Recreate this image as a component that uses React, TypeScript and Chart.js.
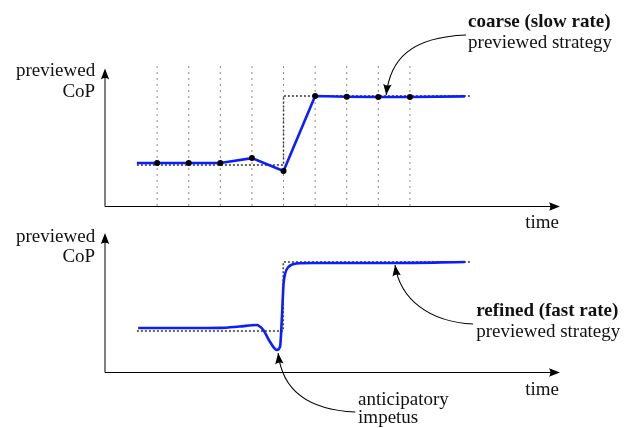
import React, { useEffect, useRef } from "react";
import { Chart, registerables } from "chart.js";

Chart.register(...registerables);

// ---- data (time units, CoP units) ----
const gridTimes = [1, 2, 3, 4, 5, 6, 7, 8, 9];

const coarseTimes = [0.36, 1, 2, 3, 4, 5, 6, 7, 8, 9, 10.74];
const coarseValues = [0.03, 0.03, 0.03, 0.03, 0.1, -0.087, 1.0, 0.99, 0.985, 0.985, 0.995];
const coarseDots = [false, true, true, true, true, true, true, true, true, true, false];

const refinedTimes = [0.4, 2.0, 3.0, 3.6, 4.15, 4.36, 4.57, 4.79, 4.89, 4.95, 5.0, 5.05, 5.16, 5.42, 5.94, 8.5, 10.74];
const refinedValues = [0.043, 0.043, 0.046, 0.065, 0.087, 0.014, -0.155, -0.275, -0.227, 0.207, 0.68, 0.83, 0.93, 0.98, 0.986, 0.986, 1.0];

const stepTimesTop = [0.36, 5, 5, 10.93];
const stepTimesBottom = [0.36, 4.99, 4.99, 10.93];
const stepValues = [0, 0, 1, 1];

const axisStart = -0.65; // time where the vertical axis stands
const axisEnd = 13.75; // tip of the time arrow
const axisFloor = -0.594; // CoP value where the time axis lies
const yArrowTop = 1.4;
const yArrowBottom = 1.42;
const gridTop = 1.493;

type Label = { text: string; t: number; v: number; axis: string; bold?: boolean; align?: CanvasTextAlign };
const labels: Label[] = [
  { text: "coarse (slow rate)", t: 10.84, v: 2.0, axis: "yTop", bold: true },
  { text: "previewed strategy", t: 10.84, v: 1.696, axis: "yTop" },
  { text: "previewed", t: -0.962, v: 1.29, axis: "yTop", align: "right" },
  { text: "CoP", t: -0.962, v: 0.986, axis: "yTop", align: "right" },
  { text: "time", t: 12.65, v: -0.913, axis: "yTop" },
  { text: "previewed", t: -0.962, v: 1.29, axis: "yBot", align: "right" },
  { text: "CoP", t: -0.962, v: 1.0, axis: "yBot", align: "right" },
  { text: "time", t: 12.65, v: -0.928, axis: "yBot" },
  { text: "refined (fast rate)", t: 11.1, v: 0.217, axis: "yBot", bold: true },
  { text: "previewed strategy", t: 11.1, v: -0.087, axis: "yBot" },
  { text: "anticipatory", t: 7.36, v: -1.072, axis: "yBot" },
  { text: "impetus", t: 7.36, v: -1.333, axis: "yBot" },
];

type Arrow = { axis: string; pts: [number, number][] };
const arrows: Arrow[] = [
  { axis: "yTop", pts: [[10.78, 1.884], [9.0, 1.855], [8.37, 1.522], [8.25, 1.014]] },
  { axis: "yBot", pts: [[11.0, 0.101], [9.64, 0.13], [8.69, 0.449], [8.53, 0.957]] },
  { axis: "yBot", pts: [[7.27, -1.174], [5.84, -1.145], [4.96, -0.884], [4.83, -0.319]] },
];

const FONT = '"Liberation Serif", "Times New Roman", serif';

function head(ctx: CanvasRenderingContext2D, tx: number, ty: number, fx: number, fy: number, len: number, half: number) {
  const dx = tx - fx;
  const dy = ty - fy;
  const d = Math.hypot(dx, dy) || 1;
  const ux = dx / d;
  const uy = dy / d;
  const bx = tx - ux * len;
  const by = ty - uy * len;
  ctx.beginPath();
  ctx.moveTo(tx, ty);
  ctx.lineTo(bx - uy * half, by + ux * half);
  ctx.quadraticCurveTo(tx - ux * len * 0.75, ty - uy * len * 0.75, bx + uy * half, by - ux * half);
  ctx.closePath();
  ctx.fill();
}

const overlay = {
  id: "overlay",
  beforeDatasetsDraw(chart: any) {
    const ctx: CanvasRenderingContext2D = chart.ctx;
    const x = chart.scales.x;
    ctx.save();
    ctx.strokeStyle = "#000";
    ctx.fillStyle = "#000";
    ctx.lineWidth = 1;
    for (const [axis, topV] of [["yTop", yArrowTop], ["yBot", yArrowBottom]] as [string, number][]) {
      const y = chart.scales[axis];
      const x0 = Math.round(x.getPixelForValue(axisStart));
      const y0 = Math.round(y.getPixelForValue(axisFloor)) + 0.5;
      const yT = y.getPixelForValue(topV);
      const xE = x.getPixelForValue(axisEnd);
      ctx.beginPath();
      ctx.moveTo(x0, y0);
      ctx.lineTo(x0, yT + 6);
      ctx.moveTo(x0, y0);
      ctx.lineTo(xE - 6, y0);
      ctx.stroke();
      head(ctx, x0, yT, x0, yT + 20, 11, 4.2);
      head(ctx, xE, y0, xE - 20, y0, 11, 4.2);
    }
    ctx.restore();
  },
  afterDatasetsDraw(chart: any) {
    const ctx: CanvasRenderingContext2D = chart.ctx;
    const x = chart.scales.x;
    ctx.save();
    ctx.fillStyle = "#111";
    ctx.textBaseline = "alphabetic";
    for (const l of labels) {
      const y = chart.scales[l.axis];
      ctx.font = (l.bold ? "bold " : "") + "19px " + FONT;
      ctx.textAlign = l.align || "left";
      ctx.fillText(l.text, x.getPixelForValue(l.t), y.getPixelForValue(l.v));
    }
    ctx.strokeStyle = "#000";
    ctx.fillStyle = "#000";
    ctx.lineWidth = 1.1;
    for (const a of arrows) {
      const y = chart.scales[a.axis];
      const p = a.pts.map(([t, v]) => [x.getPixelForValue(t), y.getPixelForValue(v)]);
      ctx.beginPath();
      ctx.moveTo(p[0][0], p[0][1]);
      ctx.bezierCurveTo(p[1][0], p[1][1], p[2][0], p[2][1], p[3][0], p[3][1]);
      ctx.stroke();
      head(ctx, p[3][0], p[3][1], p[2][0], p[2][1], 11, 4.2);
    }
    ctx.restore();
  },
};

const pts = (ts: number[], vs: number[]) => ts.map((t, i) => ({ x: t, y: vs[i] }));

export default function App() {
  const ref = useRef<HTMLCanvasElement | null>(null);
  useEffect(() => {
    if (!ref.current) return;
    const grid = gridTimes.flatMap((t) => [
      { x: t, y: axisFloor },
      { x: t, y: gridTop },
      { x: t, y: null as any },
    ]);
    const chart = new Chart(ref.current, {
      type: "line",
      data: {
        datasets: [
          {
            data: pts(coarseTimes, coarseValues),
            yAxisID: "yTop",
            borderColor: "#0a1eff",
            borderWidth: 2.6,
            pointRadius: coarseDots.map((d) => (d ? 3 : 0)),
            pointBackgroundColor: "#000",
            pointBorderColor: "#000",
            pointBorderWidth: 0,
            tension: 0,
            order: 0,
          },
          {
            data: pts(refinedTimes, refinedValues),
            yAxisID: "yBot",
            borderColor: "#0a1eff",
            borderWidth: 2.6,
            pointRadius: 0,
            cubicInterpolationMode: "monotone",
            order: 0,
          },
          {
            data: pts(stepTimesTop, stepValues),
            yAxisID: "yTop",
            borderColor: "#333",
            borderWidth: 1.4,
            borderDash: [2, 2],
            pointRadius: 0,
            tension: 0,
            order: 1,
          },
          {
            data: pts(stepTimesBottom, stepValues),
            yAxisID: "yBot",
            borderColor: "#333",
            borderWidth: 1.4,
            borderDash: [2, 2],
            pointRadius: 0,
            tension: 0,
            order: 1,
          },
          {
            data: grid,
            yAxisID: "yTop",
            borderColor: "#8a8a8a",
            borderWidth: 1,
            borderDash: [2, 4],
            pointRadius: 0,
            spanGaps: false,
            order: 2,
          },
        ],
      },
      options: {
        animation: false,
        responsive: false,
        devicePixelRatio: 1,
        layout: { padding: { left: 105, right: 66, top: 60, bottom: 48 } },
        plugins: { legend: { display: false }, tooltip: { enabled: false } },
        events: [],
        scales: {
          x: { type: "linear", display: false, min: axisStart, max: axisEnd },
          yTop: { type: "linear", display: false, min: -3.116, max: 1.522 },
          yBot: { type: "linear", display: false, min: -0.71, max: 3.928 },
        },
      } as any,
      plugins: [overlay],
    });
    return () => chart.destroy();
  }, []);
  return (
    <div style={{ position: "fixed", left: 0, top: 0, width: 626, height: 428, background: "#fff" }}>
      <canvas ref={ref} width={626} height={428} style={{ display: "block" }} />
    </div>
  );
}
